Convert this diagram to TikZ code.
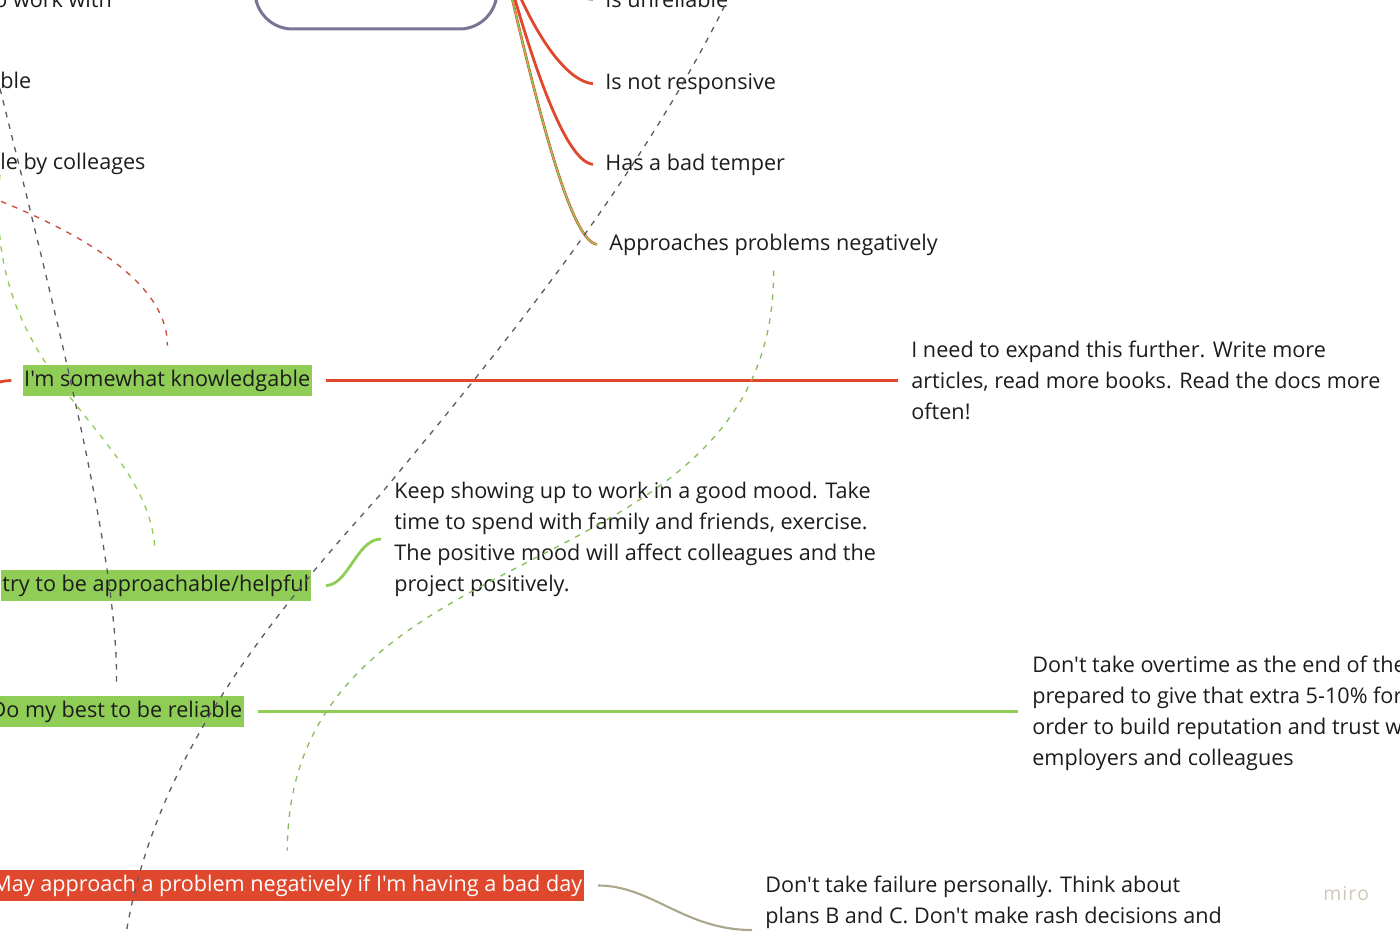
\documentclass[tikz,border=0pt]{standalone}
\usepackage{fontspec}
\setmainfont{Open Sans}[Ligatures=TeXOff]
\usetikzlibrary{positioning,calc}
\definecolor{mapRojo}{HTML}{E0482E}
\definecolor{mapVerde}{HTML}{8FCD57}
\definecolor{mapLila}{HTML}{7D7395}
\definecolor{mapGris}{HTML}{5F5A66}
\definecolor{mapOliva}{HTML}{ABA68C}
\definecolor{mapTexto}{HTML}{1C1C1C}
\definecolor{mapMarca}{HTML}{CFC6B6}
\tikzset{
  rootBox/.style={rectangle, rounded corners=0.75cm, draw=mapLila, line width=1.7pt,
    minimum width=4.84cm, minimum height=3.6cm},
  leaf/.style={anchor=base west, inner sep=0pt, align=left, text=mapTexto,
    font=\fontsize{12.3pt}{17.6pt}\selectfont},
  goodBox/.style={rectangle, fill=mapVerde, text=mapTexto, inner xsep=0.85pt, inner ysep=0pt,
    minimum height=0.62cm, font=\fontsize{12.3pt}{17.6pt}\selectfont},
  badBox/.style={goodBox, fill=mapRojo, text=white},
  branchRed/.style={draw=mapRojo, line width=1.6pt},
  branchGreen/.style={draw=mapVerde, line width=1.6pt},
  branchOlive/.style={draw=mapOliva, line width=1.2pt},
  linkDash/.style={line width=0.75pt, dash pattern=on 0.11cm off 0.13cm},
}
\begin{document}
\begin{tikzpicture}[x=0.02cm, y=-0.02cm]
  \useasboundingbox (0,0) rectangle (1400,933);

  \node[rootBox] (root) at (376,-61) {};

  % leaves cut off at the left edge
  \node[leaf] (wWork) at (-6,8)   {o work with};
  \node[leaf] (wRel)  at (0,88)   {ble};
  \node[leaf] (wResp) at (0,169)  {le by colleages};

  % weaknesses
  \node[leaf] (nUnrel)  at (605,8)   {Is unreliable};
  \node[leaf] (nResp)   at (605,89)  {Is not responsive};
  \node[leaf] (nTemper) at (605,170) {Has a bad temper};
  \node[leaf] (nNeg)    at (609,250) {Approaches problems negatively};

  % own traits
  \node[goodBox, anchor=east] (sKnow) at (312,380.5) {I'm somewhat knowledgable};
  \node[goodBox, anchor=east] (sHelp) at (311,585.5) {try to be approachable/helpful};
  \node[goodBox, anchor=east] (sRely) at (244,711.5) {Do my best to be reliable};
  \node[badBox, anchor=east]  (sBad)  at (584,885.5) {May approach a problem negatively if I'm having a bad day};

  % actions (base = last line)
  \node[leaf] (tKnow) at (911,419)  {I need to expand this further. Write more\\articles, read more books. Read the docs more\\often!};
  \node[leaf] (tHelp) at (394,591)  {Keep showing up to work in a good mood. Take\\time to spend with family and friends, exercise.\\The positive mood will affect colleagues and the\\project positively.};
  \node[leaf] (tRely) at (1032,765) {Don't take overtime as the end of the\\prepared to give that extra 5-10\% for\\order to build reputation and trust w\\employers and colleagues};
  \node[leaf] (tBad)  at (765,923)  {Don't take failure personally. Think about\\plans B and C. Don't make rash decisions and};
  \coordinate (cBad) at (752,930);

  \node[leaf, text=mapMarca, font=\fontsize{11pt}{13pt}\selectfont] (marca) at (1323,900) {m\kern0.6pt i\kern0.6pt r\kern0.6pt o};

  % branches from the root
  \draw[branchOlive] (root.east) .. controls (530,-40) and (560,-3) .. ($(nUnrel.west)+(-12,0)$);
  \draw[branchRed] (root.east) .. controls (520,10) and (560,81) .. ($(nResp.west)+(-12,0)$);
  \draw[branchRed] (root.east) .. controls (530,60) and (565,162) .. ($(nTemper.west)+(-12,0)$);
  \draw[draw=mapRojo, double=mapVerde, double distance=0.8pt, line width=0.35pt]
    (root.east) .. controls (535,100) and (570,242) .. ($(nNeg.west)+(-12,0)$);

  \coordinate (cKnowIn) at (-40,392);
  \draw[branchRed, shorten >=0.22cm] (cKnowIn) to[out=10,in=180] (sKnow.west);
  \draw[branchRed, shorten <=0.28cm, shorten >=0.26cm] (sKnow.east) -- (sKnow.east -| tKnow.west);
  \draw[branchGreen, shorten <=0.3cm, shorten >=0.26cm] (sHelp.east) to[out=0,in=180] (tHelp.west);
  \draw[branchGreen, shorten <=0.28cm, shorten >=0.28cm] (sRely.east) -- (sRely.east -| tRely.west);
  \draw[branchOlive, shorten <=0.28cm] (sBad.east) to[out=0,in=180] (cBad);

  % dashed links
  \coordinate (dTop) at (730,-5);
  \coordinate (dMid) at (380,495);
  \coordinate (dBot) at (125,940);
  \coordinate (cLeft) at (-10,197);
  \draw[linkDash, mapGris] (dTop) .. controls (640,180) and (500,350) .. (dMid)
    .. controls (240,650) and (150,780) .. (dBot);
  \draw[linkDash, mapGris, shorten >=0.26cm] (wRel.south west) .. controls (60,330) and (118,560) .. (sRely.north);
  \draw[linkDash, mapVerde, shorten >=0.36cm] (wResp.south west) .. controls (-20,380) and (150,430) .. (sHelp.north);
  \draw[linkDash, mapRojo!80!mapGris, shorten >=0.38cm] (cLeft) .. controls (100,240) and (168,290) .. (sKnow.north);
  \draw[linkDash, mapVerde!85!mapGris, shorten <=0.3cm, shorten >=0.38cm] (nNeg.south) .. controls (775,600) and (288,520) .. (sBad.north);
\end{tikzpicture}
\end{document}
